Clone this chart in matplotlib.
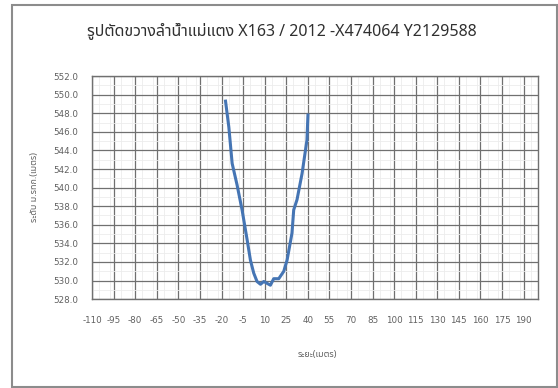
import matplotlib
matplotlib.use("Agg")
import matplotlib.pyplot as plt
import matplotlib.patches as patches
from matplotlib import font_manager
from matplotlib.ticker import MultipleLocator, FormatStrFormatter

# cross-section survey points (distance m, elevation m MSL)
distance = [-17.2, -14.9, -12.6, -9.2, -5.7, -2.2, 0.1, 2.4, 4.7, 7.1, 9.4,
            11.7, 14.0, 16.3, 19.8, 23.3, 25.6, 29.0, 30.2, 32.5, 36.0, 39.4, 40.1]
elevation = [549.3, 546.5, 542.6, 540.3, 537.6, 534.4, 532.2, 530.8, 529.9, 529.6, 529.9,
             529.7, 529.5, 530.2, 530.2, 531.0, 532.2, 535.1, 537.6, 538.7, 541.5, 545.1, 547.8]
x_ticks = list(range(-110, 191, 15))

title = "รูปตัดขวางลำน้ำแม่แตง X163 / 2012 -X474064 Y2129588"
xlabel = "ระยะ(เมตร)"
ylabel = "ระดับ ม.รทก.(เมตร)"

plt.rcParams['axes.unicode_minus'] = False

# pick a font with thai glyphs
names = set(f.name for f in font_manager.fontManager.ttflist)
thai = None
for cand in ["Noto Sans Thai", "Sarabun", "Loma", "Garuda", "Anuphan"]:
    if cand in names:
        thai = cand
        break
fam = [thai, "DejaVu Sans"] if thai else ["DejaVu Sans"]

fig = plt.figure(figsize=(5.58, 3.88), dpi=100)
ax = fig.add_axes([0.165, 0.229, 0.799, 0.575])

# outer chart border
fig.patches.append(patches.Rectangle((12 / 558, 1.5 / 388), 545 / 558, 382 / 388,
                                     transform=fig.transFigure, fill=False,
                                     edgecolor="#8c8c8c", linewidth=1.5))

ax.plot(distance, elevation, color="#4575b4", linewidth=2.2, zorder=5)

ax.set_xlim(-110, 200)
ax.set_ylim(528, 552)
ax.set_xticks(x_ticks)
ax.yaxis.set_major_locator(MultipleLocator(2))
ax.yaxis.set_major_formatter(FormatStrFormatter("%.1f"))
ax.xaxis.set_minor_locator(MultipleLocator(7.5))
ax.yaxis.set_minor_locator(MultipleLocator(1))
ax.grid(which="major", color="#707070", linewidth=0.9)
ax.grid(which="minor", color="#ececec", linewidth=0.6)
ax.tick_params(which="both", length=0, labelsize=6.3, colors="#606060")
ax.tick_params(axis="x", pad=12)
ax.tick_params(axis="y", pad=10)
for s in ax.spines.values():
    s.set_color("#707070")
    s.set_linewidth(1.0)

fig.text(0.505, 0.922, title, ha="center", va="center", fontsize=11.5,
         family=fam, color="#303030")
fig.text(317 / 558, 1 - 354 / 388, xlabel, ha="center", va="center",
         family=fam, fontsize=6.5, color="#606060")
fig.text(35 / 558, 1 - 187 / 388, ylabel, ha="center", va="center", rotation=90,
         family=fam, fontsize=6.5, color="#606060")

fig.savefig("out.png")
